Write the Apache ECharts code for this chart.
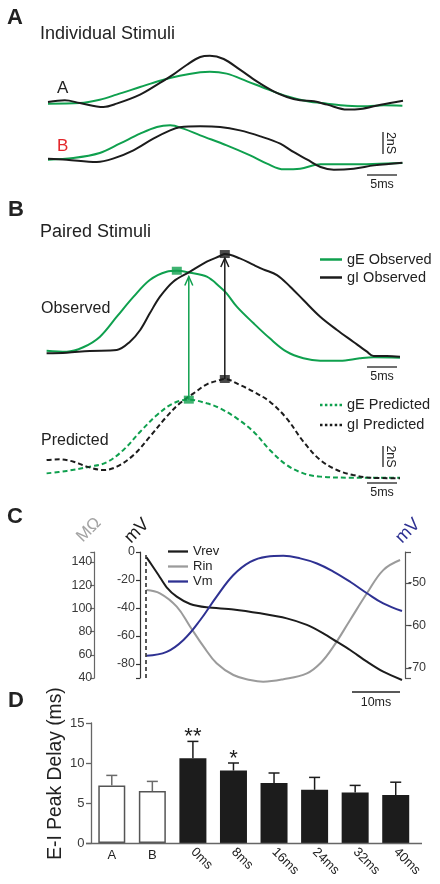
<!DOCTYPE html>
<html><head><meta charset="utf-8">
<script src="https://cdn.jsdelivr.net/npm/echarts@6/dist/echarts.min.js"></script>
<style>html,body{margin:0;padding:0;background:#fff;}#c{width:440px;height:884px;}</style>
</head><body><div id="c"></div>
<script>
// ---------------- DATA ----------------
// Panel A: individual stimuli (time ms, conductance nS)
const stimA_gI = [[0,0.09],[2.8,0.24],[5.3,0],[9.2,-0.36],[11.4,-0.06],[15.3,0.76],[18.6,1.82],[20.8,2.58],[23.1,3.48],[25.3,4.18],[26.9,4.3],[29.2,4.0],[31.9,3.03],[34.7,1.97],[37.5,1.06],[39.7,0.55],[41.9,0.24],[44.2,0.15],[46.4,-0.15],[49.7,-0.6],[51.9,-0.55],[55.3,-0.15],[59,0.21]];
const stimA_gE = [[0,-0.06],[5.3,0],[8.6,0.3],[11.4,0.76],[15.3,1.45],[18.6,2.03],[21.9,2.48],[25.3,2.79],[26.9,2.85],[29.7,2.67],[33.1,1.97],[36.4,1.27],[39.7,0.61],[43.1,0.15],[46.4,-0.06],[49.7,-0.24],[53.1,-0.3],[55.8,-0.21],[58.9,-0.24]];
const stimB_gI = [[0,0.03],[3.1,-0.06],[8.1,-0.27],[10.8,0.03],[14.2,0.79],[17.5,1.85],[20.3,2.6],[21.9,2.88],[25.3,2.97],[28.6,2.91],[31.9,2.6],[35.3,2.06],[38.6,1.39],[40.8,0.64],[43.1,-0.06],[45.3,-0.73],[47.5,-0.97],[50.8,-0.88],[54.2,-0.58],[58.9,-0.33]];
const stimB_gE = [[0,-0.06],[4.2,0.09],[8.6,0.55],[11.9,1.39],[15.3,2.3],[18.1,2.91],[20.3,3.06],[22.5,2.76],[25.3,2.15],[29.7,1.24],[33.6,0.33],[36.4,-0.42],[39.2,-0.94],[41.9,-0.88],[45.3,-0.48],[50.3,-0.48],[58.9,-0.36]];
// Panel B: paired stimuli
const obs_gE = [[0.1,0.12],[3.45,0.03],[6.2,0.45],[9,1.46],[11.8,3.36],[14.6,5.27],[17.3,6.86],[20.1,7.65],[21.8,7.74],[24,7.55],[26.8,7.17],[29,6.2],[30.1,5.59],[31.8,4.32],[34.6,2.73],[37.3,1.3],[40.1,0.03],[42.9,-0.6],[45.7,-0.83],[49,-0.83],[52.3,-0.6],[54.6,-0.5],[59,-0.54]];
const obs_gI = [[0.1,-0.13],[3.45,-0.07],[7.3,0.1],[11.8,0.19],[14,0.98],[15.7,2.1],[17.3,3.68],[19,5.27],[21.2,6.7],[24,7.65],[26.8,8.6],[29,9.14],[29.8,9.33],[32.3,8.92],[34.6,8.29],[36.2,7.87],[38.5,7.33],[40.7,6.22],[42.9,4.95],[45.7,3.36],[48.5,2.1],[51.2,0.98],[53.5,0.03],[54.6,-0.38],[56.8,-0.38],[59,-0.45]];
const pred_gE = [[0.1,0.06],[3.45,0.29],[7.3,0.7],[10.1,1.11],[12.9,2.29],[15.7,4.03],[18.5,5.62],[21.2,6.73],[23.8,7.08],[26.8,6.73],[29,6.26],[31.8,5.3],[34.6,4.03],[37.3,2.29],[40.1,0.86],[42.9,0.06],[45.7,-0.25],[51.2,-0.35],[59,-0.35]];
const pred_gI = [[0.1,1.33],[2.3,1.4],[4.6,1.17],[6.8,0.7],[9.6,0.38],[11.8,0.7],[14.6,1.81],[17.3,3.55],[20.1,5.46],[22.3,6.73],[24.6,7.68],[26.8,8.54],[29,8.95],[29.8,9.05],[32.3,8.48],[34.6,7.84],[37.3,6.89],[40.1,5.3],[42.9,3.08],[45.7,1.33],[48.5,0.38],[51.2,-0.1],[54,-0.35],[59,-0.41]];
// Panel C
const vrev = [[0.1,-3.8],[1.2,-9.3],[2.6,-16.4],[4.3,-25.2],[6.4,-31.9],[9.2,-37.1],[12.6,-39.5],[18.2,-41],[23.8,-43.8],[29.3,-47.4],[33.5,-52.1],[36.9,-58.1],[39.7,-64],[42.5,-70],[46,-78.3],[49.4,-85.5],[53.3,-91.4]];
const rin = [[0.1,115.9],[2.9,113],[6.4,101.5],[9.2,84.2],[12,67],[14.7,52.7],[18.2,42.6],[21.7,38.3],[24.4,36.8],[28.6,38.9],[33.5,44],[36.3,52.7],[39,67],[42.5,90],[46,113],[49.4,133],[52.9,141.7]];
const vm = [[0.1,-67.1],[4.3,-66.2],[7.8,-63.4],[11.3,-58.7],[14.7,-53.2],[18.2,-48.1],[21.7,-45],[25.1,-43.8],[28.6,-43.6],[32.1,-44.2],[35.6,-45.4],[39,-47.3],[42.5,-49.7],[46,-52.4],[49.4,-54.8],[53.3,-56.6]];
const rinTicks = [40,60,80,100,120,140];
const vrevTicks = [-80,-60,-40,-20,0];
const vmTicks = [-70,-60,-50];
// Panel D
const categories = ['A','B','0ms','8ms','16ms','24ms','32ms','40ms'];
const barKinds = ['individual','individual','paired','paired','paired','paired','paired','paired'];
const delayMean = [7.2,6.5,10.6,9.05,7.5,6.65,6.3,6.0];
const delaySem = [1.25,1.2,2.1,0.95,1.25,1.55,0.9,1.6];
const significance = ['','','**','*','','','',''];

// ---------------- STYLE ----------------
const FONT = '"Liberation Sans", Arial, Helvetica, sans-serif';
const GREEN = '#0fa04e', BLACK = '#1c1c1c', RED = '#e3262b', BLUE = '#2e3192', GRAY = '#9b9b9b';
const SOLID_ICON = 'path://M0,0H22V2.5H0Z';
const DOT_ICON = 'path://M0,0h2.5v2.5h-2.5z M4.9,0h2.5v2.5h-2.5z M9.8,0h2.5v2.5h-2.5z M14.7,0h2.5v2.5h-2.5z M19.5,0h2.5v2.5h-2.5z';

const chart = echarts.init(document.getElementById('c'), null, {renderer:'canvas'});

function hiddenAxis(gridIndex, min, max){ return {gridIndex, type:'value', min, max, show:false, splitLine:{show:false}, axisLine:{onZero:false}}; }
function trace(name, data, xi, yi, color, dashed){
  return {type:'line', name, data, xAxisIndex:xi, yAxisIndex:yi, symbol:'none', smooth:0.35, clip:false,
    lineStyle:{color, width:2, type: dashed ? [5,3] : 'solid'}, itemStyle:{color}};
}
function peak(d){ return d.reduce((a,b)=> b[1]>a[1]?b:a); }
function interp(d, t){
  for (let i=0;i<d.length-1;i++){ if (t>=d[i][0] && t<=d[i+1][0]){ const f=(t-d[i][0])/(d[i+1][0]-d[i][0]); return d[i][1]+f*(d[i+1][1]-d[i][1]); } }
  return d[d.length-1][1];
}
function peakSeries(d, xi, yi, color){
  return {type:'scatter', data:[peak(d)], xAxisIndex:xi, yAxisIndex:yi, symbol:'rect', symbolSize:[10,8], itemStyle:{color}, z:5, silent:true};
}
function legendBox(items, icon, left, top, gap, fontSize, w){
  return {data: items.map(n=>({name:n, icon})), orient:'vertical', left, top, padding:0, itemWidth:w, itemHeight:2.5, itemGap:gap,
    itemTextGap:7, selectedMode:false, textStyle:{fontSize, color:'#222', fontFamily:FONT}};
}

const option = {
  animation:false,
  backgroundColor:'#fff',
  textStyle:{fontFamily:FONT},
  grid:[
    {left:48, top:48, width:355, height:66},
    {left:48, top:120.5, width:355, height:55},
    {left:46, top:247, width:354, height:120.75},
    {left:46, top:369, width:354, height:115.5},
    {left:146, top:552, width:256, height:126},
    {left:91.5, top:723, width:324.5, height:120}
  ],
  xAxis:[
    hiddenAxis(0,0,59), hiddenAxis(1,0,59), hiddenAxis(2,0,59), hiddenAxis(3,0,59), hiddenAxis(4,0,53.3),
    {gridIndex:5, type:'category', data:categories, axisLine:{show:false}, axisTick:{show:false},
      axisLabel:{interval:0, rotate:-45, fontSize:13, color:'#222', margin:7,
        formatter:(v,i)=> barKinds[i]==='paired' ? v : ''}},
    {gridIndex:5, type:'category', data:categories, position:'bottom', axisLine:{show:false}, axisTick:{show:false},
      axisLabel:{interval:0, fontSize:13, color:'#222', margin:6,
        formatter:(v,i)=> barKinds[i]==='individual' ? v : ''}}
  ],
  yAxis:[
    hiddenAxis(0,-1,5), hiddenAxis(1,-1.5,3.5), hiddenAxis(2,-1.5,10), hiddenAxis(3,-1,10),
    {gridIndex:4, type:'value', min:40, max:148.6, position:'left', offset:51.7, splitLine:{show:false},
      axisLine:{show:true, onZero:false, lineStyle:{color:'#666', width:1.2}},
      axisTick:{show:true, length:4, customValues:rinTicks.concat([148.6]), lineStyle:{color:'#666', width:1.2}},
      axisLabel:{customValues:rinTicks, fontSize:12.5, color:'#3a3a3a', margin:2}},
    {gridIndex:4, type:'value', min:-90, max:0, position:'left', offset:6, splitLine:{show:false},
      axisLine:{show:true, onZero:false, lineStyle:{color:'#333', width:1.2}},
      axisTick:{show:true, length:4, customValues:[-90].concat(vrevTicks), lineStyle:{color:'#333', width:1.2}},
      axisLabel:{customValues:vrevTicks, fontSize:12.5, color:'#3a3a3a', margin:5}},
    {gridIndex:4, type:'value', min:-72.35, max:-42.7, position:'right', offset:3, splitLine:{show:false},
      axisLine:{show:true, onZero:false, lineStyle:{color:'#555', width:1.2}},
      axisTick:{show:true, length:6, customValues:[-72.35].concat(vmTicks,[-42.7]), lineStyle:{color:'#555', width:1.2}},
      axisLabel:{customValues:vmTicks, fontSize:12.5, color:'#3a3a3a', margin:3}},
    {gridIndex:5, type:'value', min:0, max:15, interval:5, splitLine:{show:false},
      axisLine:{show:true, onZero:false, lineStyle:{color:'#666', width:1.3}},
      axisTick:{show:true, length:5.5, lineStyle:{color:'#666', width:1.3}},
      axisLabel:{fontSize:13, color:'#3a3a3a', margin:7}}
  ],
  legend:[
    legendBox(['gE Observed','gI Observed'], SOLID_ICON, 320, 252, 3, 14.5, 22),
    legendBox(['gE Predicted','gI Predicted'], DOT_ICON, 320, 397.5, 5, 14.5, 22),
    Object.assign(legendBox(['Vrev','Rin','Vm'], SOLID_ICON, 168, 545, 2, 13, 20), {itemTextGap:3})
  ],
  series:[
    trace('A gE', stimA_gE, 0, 0, GREEN),
    trace('A gI', stimA_gI, 0, 0, BLACK),
    trace('B gE', stimB_gE, 1, 1, GREEN),
    trace('B gI', stimB_gI, 1, 1, BLACK),
    trace('gE Observed', obs_gE, 2, 2, GREEN),
    trace('gI Observed', obs_gI, 2, 2, BLACK),
    peakSeries(obs_gE, 2, 2, GREEN),
    peakSeries(obs_gI, 2, 2, BLACK),
    trace('gE Predicted', pred_gE, 3, 3, GREEN, true),
    trace('gI Predicted', pred_gI, 3, 3, BLACK, true),
    peakSeries(pred_gE, 3, 3, GREEN),
    peakSeries(pred_gI, 3, 3, BLACK),
    Object.assign(trace('Rin', rin, 4, 4, GRAY), {smooth:0.4}),
    Object.assign(trace('Vrev', vrev, 4, 5, BLACK), {smooth:0.3,
      markLine:{silent:true, symbol:'none', label:{show:false}, lineStyle:{type:[4,3], color:'#222', width:1.5}, data:[{xAxis:0}]}}),
    Object.assign(trace('Vm', vm, 4, 6, BLUE), {smooth:0.4}),
    {type:'bar', xAxisIndex:5, yAxisIndex:7, barWidth:27,
      data: delayMean.map((v,i)=>({value:v, itemStyle: barKinds[i]==='individual' ? {color:'#fff', borderColor:'#555', borderWidth:1.5} : {color:'#1c1c1c'}}))},
    {type:'custom', xAxisIndex:5, yAxisIndex:7, z:3,
      data: categories.map((c,i)=>[i, delayMean[i], delaySem[i]]),
      renderItem:(params, api)=>{
        const i = api.value(0), m = api.value(1), s = api.value(2);
        const b = api.coord([i, m]), t = api.coord([i, m+s]);
        const col = barKinds[i]==='individual' ? '#6a6a6a' : '#1c1c1c';
        const ch = [
          {type:'line', shape:{x1:b[0], y1:b[1], x2:t[0], y2:t[1]}, style:{stroke:col, lineWidth:1.5}},
          {type:'line', shape:{x1:t[0]-5.5, y1:t[1], x2:t[0]+5.5, y2:t[1]}, style:{stroke:col, lineWidth:1.5}}
        ];
        if (significance[i]) ch.push({type:'text', x:t[0], y:t[1]-4.5,
          style:{text:significance[i], align:'center', verticalAlign:'middle', textAlign:'center', textVerticalAlign:'middle', font:'22px '+FONT, fill:'#1c1c1c'}});
        return {type:'group', children:ch};
      }}
  ]
};
chart.setOption(option);

// ---------------- ANNOTATIONS ----------------
function txt(text, x, y, size, opts){
  opts = opts || {};
  return {type:'text', x, y, rotation: opts.rot || 0, silent:true, z:10,
    style:{text, x:0, y:0, font:(opts.bold?'bold ':'')+size+'px '+FONT, fill: opts.color || '#222',
      align: opts.align || 'left', textAlign: opts.align || 'left', verticalAlign:'middle', textVerticalAlign:'middle'}};
}
function ln(x1,y1,x2,y2,color,w){ return {type:'line', silent:true, z:10, shape:{x1,y1,x2,y2}, style:{stroke:color||'#222', lineWidth:w||1.3}}; }

function arrow(predData, obsData, color){
  const p = peak(predData);
  const from = chart.convertToPixel({xAxisIndex:3, yAxisIndex:3}, p);
  const to = chart.convertToPixel({xAxisIndex:2, yAxisIndex:2}, [p[0], interp(obsData, p[0])]);
  const tipY = to[1] + 4;
  return [
    {type:'line', silent:true, z:4, shape:{x1:from[0], y1:from[1], x2:from[0], y2:tipY}, style:{stroke:color, lineWidth:1.5}},
    {type:'polyline', silent:true, z:4, shape:{points:[[from[0]-4, tipY+9],[from[0], tipY],[from[0]+4, tipY+9]]}, style:{stroke:color, lineWidth:1.5, fill:null}}
  ];
}

const els = [
  txt('A', 7, 17.5, 22, {bold:true}),
  txt('Individual Stimuli', 40, 34, 18),
  txt('A', 57, 88.5, 17),
  txt('B', 57, 146.5, 17, {color:RED}),
  ln(383,132,383,154), txt('2nS', 390, 143, 12.5, {rot:-Math.PI/2, align:'center'}),
  ln(367,175,397,175), txt('5ms', 382, 184.5, 12.5, {align:'center'}),
  txt('B', 8, 209.5, 22, {bold:true}),
  txt('Paired Stimuli', 40, 232.5, 18),
  txt('Observed', 41, 309, 16),
  txt('Predicted', 41, 441, 16),
  ln(367,367,397,367), txt('5ms', 382, 377, 12.5, {align:'center'}),
  ln(383,446,383,467), txt('2nS', 390, 456.5, 12.5, {rot:-Math.PI/2, align:'center'}),
  ln(367,483,397,483), txt('5ms', 382, 493, 12.5, {align:'center'}),
  txt('C', 7, 517, 22, {bold:true}),
  txt('MΩ', 89, 530, 17, {rot:Math.PI/4, align:'center', color:'#a3a3a3'}),
  txt('mV', 137, 531, 18, {rot:Math.PI/4, align:'center', color:'#1c1c1c'}),
  txt('mV', 408, 531, 18, {rot:Math.PI/4, align:'center', color:BLUE}),
  ln(352,692,400,692), txt('10ms', 376, 702.5, 12.5, {align:'center'}),
  txt('D', 8, 701, 22, {bold:true}),
  txt('E-I Peak Delay (ms)', 56, 773.5, 19.3, {rot:Math.PI/2, align:'center'}),
  ln(86,843.5,422,843.5,'#666',1.3)
].concat(arrow(pred_gE, obs_gE, GREEN), arrow(pred_gI, obs_gI, BLACK));

chart.setOption({graphic:{elements:els}});
</script>
</body></html>
